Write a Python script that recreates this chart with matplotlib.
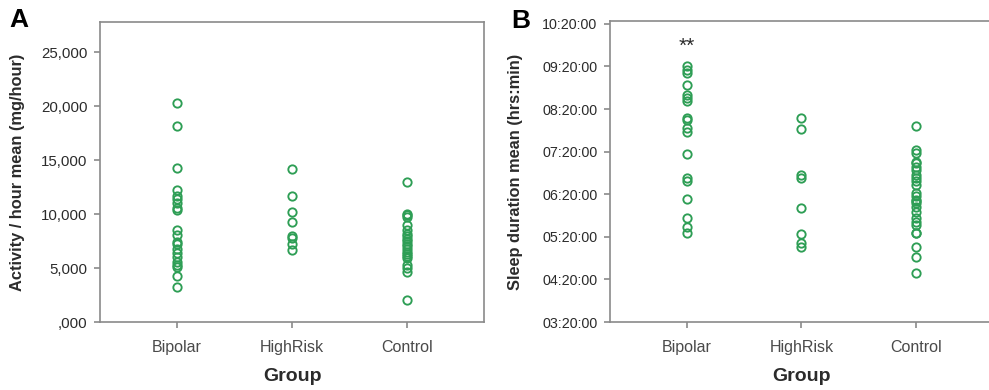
import matplotlib
matplotlib.use("Agg")
import matplotlib.pyplot as plt
from matplotlib.ticker import FuncFormatter

plt.rcParams['font.family'] = ['Liberation Sans', 'DejaVu Sans']

groups = ["Bipolar", "HighRisk", "Control"]

# Panel A: activity / hour mean (mg/hour)
activity_bipolar = [20300, 18150, 14300, 12250, 11700, 11400, 11000, 10600, 10400,
                    8500, 8050, 7400, 7200, 6800, 6350, 6000, 5600, 5300, 5100, 4300, 3200]
activity_highrisk = [14200, 11650, 10150, 9250, 7950, 7750, 7250, 6700]
activity_control = [13000, 10000, 9900, 9700, 9000, 8500, 8200, 8000, 7700, 7500, 7200,
                    7000, 6800, 6500, 6300, 6100, 5900, 5300, 5000, 4600, 2000]

# Panel B: sleep duration mean (hh:mm)
sleep_bipolar = ["09:21", "09:15", "09:11", "08:54", "08:40", "08:35", "08:31", "08:08",
                 "08:05", "07:53", "07:48", "07:17", "06:43", "06:38", "06:13", "05:46",
                 "05:34", "05:25"]
sleep_highrisk = ["08:07", "07:52", "06:47", "06:43", "06:00", "05:24", "05:11", "05:06"]
sleep_control = ["07:56", "07:22", "07:18", "07:06", "07:04", "06:59", "06:54", "06:47",
                 "06:43", "06:38", "06:33", "06:22", "06:17", "06:12", "06:10", "06:07",
                 "06:02", "05:55", "05:46", "05:41", "05:37", "05:26", "05:25", "05:05",
                 "04:51", "04:29"]

activity_ticks = [0, 5000, 10000, 15000, 20000, 25000]
sleep_ticks = ["03:20", "04:20", "05:20", "06:20", "07:20", "08:20", "09:20", "10:20"]


def to_hours(s):
    h, m = s.split(":")
    return int(h) + int(m) / 60.0


GREEN = "#2e9e55"
SPINE = "#8a8a8a"
TXT = "#2b2b2b"

fig = plt.figure(figsize=(9.89, 3.90), dpi=100)
W, H = 989, 390


def make_ax(left, top, right, bottom):
    return fig.add_axes([left / W, 1 - bottom / H, (right - left) / W, (bottom - top) / H])


axA = make_ax(100, 22, 484, 322)
axB = make_ax(610, 21, 993, 322)


def style(ax):
    for s in ax.spines.values():
        s.set_color(SPINE)
        s.set_linewidth(1.2)
    ax.tick_params(axis='both', direction='out', length=4, width=1.2, color=SPINE,
                   labelcolor=TXT, labelsize=10.8)
    ax.tick_params(axis='x', pad=9, labelsize=11.5, labelcolor="#4a4a4a")
    ax.tick_params(axis='y', pad=5)
    ax.set_xticks(range(len(groups)))
    ax.set_xticklabels(groups)
    ax.set_xlim(-0.67, 2.67)


def scatter_groups(ax, series):
    for i, vals in enumerate(series):
        ax.plot([i] * len(vals), vals, linestyle='none', marker='o', markersize=6,
                markerfacecolor='none', markeredgecolor=GREEN, markeredgewidth=1.35)


# Panel A
style(axA)
scatter_groups(axA, [activity_bipolar, activity_highrisk, activity_control])
axA.set_ylim(0, 27800)
axA.set_yticks(activity_ticks)
axA.yaxis.set_major_formatter(FuncFormatter(
    lambda v, p: ",000" if v == 0 else f"{int(v / 1000)},000"))
axA.set_ylabel("Activity / hour mean (mg/hour)", fontsize=11.8, fontweight='bold', color=TXT)
axA.yaxis.set_label_coords(-75 / 384, 0.5)
axA.set_xlabel("Group", fontsize=14, fontweight='bold', color=TXT)
axA.xaxis.set_label_coords(0.5, -46 / 300)

# Panel B
style(axB)
series_b = [[to_hours(s) for s in grp] for grp in (sleep_bipolar, sleep_highrisk, sleep_control)]
scatter_groups(axB, series_b)
axB.set_ylim(to_hours("03:20"), to_hours("10:24"))
axB.set_yticks([to_hours(s) for s in sleep_ticks])
axB.set_yticklabels([s + ":00" for s in sleep_ticks])
axB.tick_params(axis='y', labelsize=10.3)
axB.set_ylabel("Sleep duration mean (hrs:min)", fontsize=11.8, fontweight='bold', color=TXT)
axB.yaxis.set_label_coords(-(610 - 523) / 383, 0.5)
axB.set_xlabel("Group", fontsize=14, fontweight='bold', color=TXT)
axB.xaxis.set_label_coords(0.5, -46 / 300)
axB.text(0, to_hours("09:49"), "**", ha='center', va='center', fontsize=15, color=TXT)

# Panel letters
fig.text(9 / W, 1 - 20 / H, "A", fontsize=19, fontweight='bold', ha='left', va='center')
fig.text(511 / W, 1 - 21 / H, "B", fontsize=19, fontweight='bold', ha='left', va='center')

fig.savefig("out.png", dpi=100)
